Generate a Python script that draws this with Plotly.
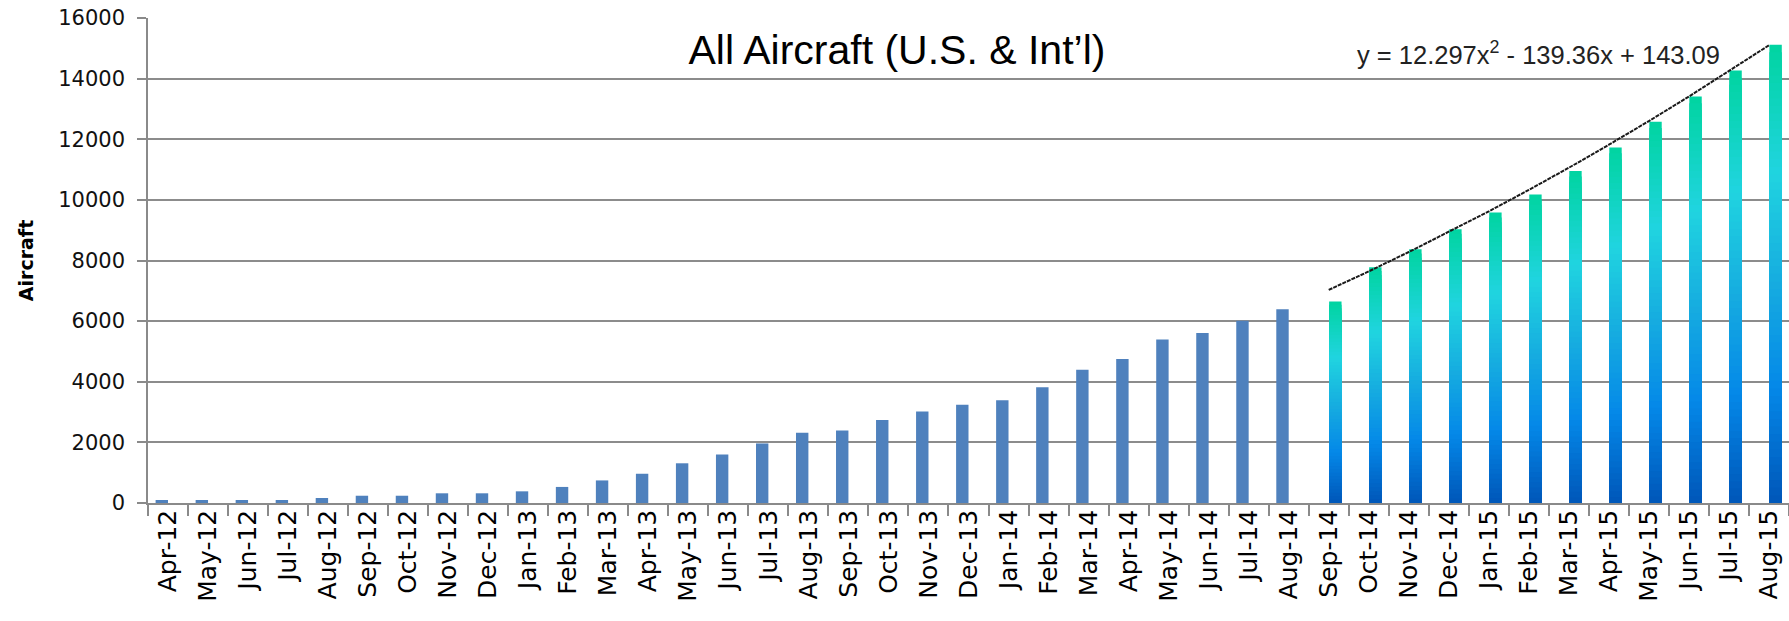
import plotly.graph_objects as go

# ---- data ----
months = ["Apr-12", "May-12", "Jun-12", "Jul-12", "Aug-12", "Sep-12", "Oct-12", "Nov-12", "Dec-12",
          "Jan-13", "Feb-13", "Mar-13", "Apr-13", "May-13", "Jun-13", "Jul-13", "Aug-13", "Sep-13",
          "Oct-13", "Nov-13", "Dec-13", "Jan-14", "Feb-14", "Mar-14", "Apr-14", "May-14", "Jun-14",
          "Jul-14", "Aug-14", "Sep-14", "Oct-14", "Nov-14", "Dec-14", "Jan-15", "Feb-15", "Mar-15",
          "Apr-15", "May-15", "Jun-15", "Jul-15", "Aug-15"]
actual = [100, 100, 100, 100, 165, 240, 240, 320, 320,
          385, 530, 745, 965, 1310, 1600, 1965, 2320, 2390, 2740, 3020, 3240,
          3390, 3820, 4400, 4750, 5390, 5610, 6010, 6390]
forecast_months = months[29:]
forecast = [6650, 7780, 8370, 9030, 9580, 10180, 10950, 11730, 12580, 13410, 14270, 15120]
trend = [7030, 7640, 8280, 8940, 9620, 10330, 11060, 11820, 12600, 13410, 14250, 15100]
y_ticks = [0, 2000, 4000, 6000, 8000, 10000, 12000, 14000, 16000]
y_tick_labels = ["0", "2000", "4000", "6000", "8000", "10000", "12000", "14000", "16000"]

title_text = "All Aircraft (U.S. &amp; Int\u2019l)"
equation_text = "y = 12.297x<sup>2</sup> - 139.36x + 143.09"

# gradient stops (fraction from top of bar -> colour)
grad_stops = [(0.0, (0, 212, 160)), (0.28, (32, 212, 224)), (0.52, (22, 172, 224)),
              (0.75, (4, 136, 232)), (1.0, (0, 86, 184))]


def grad_color(f):
    for (f0, c0), (f1, c1) in zip(grad_stops[:-1], grad_stops[1:]):
        if f <= f1:
            t = (f - f0) / (f1 - f0)
            c = [round(a + (b - a) * t) for a, b in zip(c0, c1)]
            return "rgb(%d,%d,%d)" % tuple(c)
    return "rgb(%d,%d,%d)" % grad_stops[-1][1]


fig = go.Figure()

# actual (blue) bars
fig.add_trace(go.Bar(x=months[:len(actual)], y=actual, marker=dict(color="#4F81BD", line=dict(width=0)),
                     width=0.31, offset=-0.31, showlegend=False, hoverinfo="x+y"))

# forecast bars with vertical gradient: overlaid bars of decreasing height
N = 60
for k in range(N):
    frac = (N - k) / N
    fig.add_trace(go.Bar(x=forecast_months, y=[v * frac for v in forecast],
                         marker=dict(color=grad_color((k + 0.5) / N), line=dict(width=0)),
                         width=0.31, offset=0.01, showlegend=False, hoverinfo="skip"))

# trendline
fig.add_trace(go.Scatter(x=forecast_months, y=trend, mode="lines",
                         line=dict(color="#1a1a1a", width=2, dash="4px,1px"),
                         showlegend=False, hoverinfo="skip"))

fig.update_layout(
    width=1789, height=621,
    barmode="overlay",
    plot_bgcolor="white", paper_bgcolor="white",
    margin=dict(l=148, r=0, t=18, b=118),
    title=dict(text=title_text, x=0.4564, xref="paper", xanchor="center",
               y=1 - 50 / 621, yref="container", yanchor="middle",
               font=dict(family="Liberation Sans", size=41, color="#000000")),
    annotations=[dict(text=equation_text, xref="paper", yref="paper", x=0.8474, y=0.928,
                      xanchor="center", yanchor="middle", showarrow=False,
                      font=dict(family="Liberation Sans", size=25.5, color="#222222"))],
)

fig.update_xaxes(type="category", categoryorder="array", categoryarray=months,
                 range=[-0.5, len(months) - 0.5],
                 tickson="boundaries", ticks="outside", ticklen=11, tickwidth=1.5, tickcolor="#8a8a8a",
                 showline=True, linecolor="#8a8a8a", linewidth=1.5, showgrid=False,
                 tickangle=-90, ticklabelstandoff=-5,
                 tickfont=dict(family="DejaVu Sans", size=25, color="#000000"))

fig.update_yaxes(range=[0, 16000], tickvals=y_ticks, ticktext=y_tick_labels,
                 ticks="outside", ticklen=9, tickwidth=1.5,
                 tickcolor="#8a8a8a", showline=True, linecolor="#8a8a8a", linewidth=1.5,
                 showgrid=True, gridcolor="#8c8c8c", gridwidth=1.5, zeroline=False,
                 ticklabelstandoff=8,
                 tickfont=dict(family="DejaVu Sans", size=21, color="#111111"),
                 title=dict(text="<b>Aircraft</b>", standoff=20,
                            font=dict(family="DejaVu Sans", size=19, color="#000000")))

fig.write_html("out.html", config={"displayModeBar": False},
               post_script="document.body.style.margin='0';")
